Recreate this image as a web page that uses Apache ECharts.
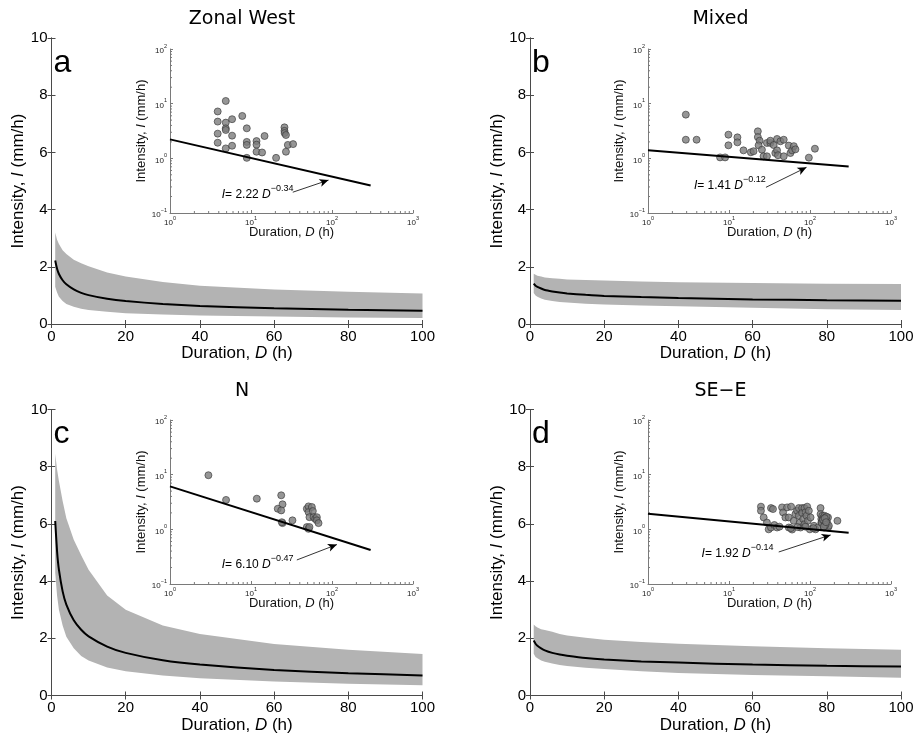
<!DOCTYPE html>
<html><head><meta charset="utf-8">
<script src="https://cdn.jsdelivr.net/npm/echarts@6/dist/echarts.min.js"></script>
<style>html,body{margin:0;padding:0;background:#fff}#c{width:915px;height:733px}</style>
</head><body><div id="c"></div>
<script>
// ---------- DATA ----------
const panelTitles = ['Zonal West', 'Mixed', 'N', 'SE\u2212E'];
const panelLetters = ['a', 'b', 'c', 'd'];
const mainXTicks = [0, 20, 40, 60, 80, 100];
const mainYTicks = [0, 2, 4, 6, 8, 10];

// duration grid for the main-panel fitted curve and band
const durations = [1, 1.5, 2, 3, 4, 6, 8, 10, 15, 20, 30, 40, 60, 80, 100];

const fitA   = [2.22, 1.93, 1.75, 1.53, 1.39, 1.21, 1.09, 1.01, 0.88, 0.80, 0.70, 0.63, 0.55, 0.50, 0.46];
const upperA = [3.20, 2.95, 2.80, 2.58, 2.45, 2.25, 2.12, 2.02, 1.80, 1.66, 1.47, 1.34, 1.21, 1.13, 1.07];
const lowerA = [1.30, 1.10, 0.95, 0.80, 0.70, 0.60, 0.53, 0.49, 0.43, 0.38, 0.33, 0.30, 0.26, 0.23, 0.21];

const fitB   = [1.41, 1.34, 1.30, 1.24, 1.19, 1.14, 1.10, 1.07, 1.02, 0.98, 0.94, 0.91, 0.86, 0.83, 0.81];
const upperB = [1.76, 1.72, 1.69, 1.66, 1.63, 1.60, 1.58, 1.56, 1.54, 1.52, 1.49, 1.46, 1.43, 1.41, 1.40];
const lowerB = [1.08, 1.00, 0.95, 0.89, 0.85, 0.80, 0.77, 0.75, 0.71, 0.68, 0.65, 0.62, 0.57, 0.52, 0.49];

const fitC   = [6.10, 5.04, 4.40, 3.64, 3.18, 2.63, 2.30, 2.07, 1.71, 1.49, 1.23, 1.08, 0.89, 0.78, 0.70];
const upperC = [8.45, 7.90, 7.50, 6.80, 6.20, 5.45, 4.90, 4.40, 3.50, 3.00, 2.45, 2.15, 1.80, 1.60, 1.45];
const lowerC = [4.30, 3.50, 3.00, 2.45, 2.05, 1.65, 1.38, 1.22, 0.98, 0.85, 0.70, 0.60, 0.49, 0.41, 0.36];

const fitD   = [1.92, 1.81, 1.74, 1.65, 1.58, 1.49, 1.43, 1.39, 1.31, 1.26, 1.19, 1.15, 1.08, 1.04, 1.01];
const upperD = [2.48, 2.42, 2.38, 2.32, 2.29, 2.23, 2.15, 2.10, 2.02, 1.95, 1.87, 1.81, 1.72, 1.65, 1.60];
const lowerD = [1.46, 1.35, 1.30, 1.22, 1.18, 1.12, 1.07, 1.03, 0.97, 0.93, 0.85, 0.79, 0.72, 0.67, 0.62];

// inset: observed events (duration h, intensity mm/h)
const eventsA_D = [3.88,4.88,3.88,4.88,5.84,7.8,3.88,4.88,4.88,5.84,8.87,3.88,4.88,5.84,8.87,8.87,8.87,11.7,11.7,11.7,13.7,14.7,20.4,25.9,25.9,26,27,27,28.5,33.1];
const eventsA_I = [7.2,11.2,4.7,4.5,5.2,5.96,2.83,3.54,3.3,2.6,3.54,1.93,1.52,1.70,2.0,1.76,1.02,2.07,1.78,1.32,1.28,2.56,1.02,3.69,3.18,2.9,2.67,1.32,1.76,1.82];

const eventsB_D = [2.93,2.93,3.98,9.84,9.84,7.76,8.95,12.7,12.7,15.1,18.6,20.1,22.7,22.7,23.9,23.2,25.5,26.7,29.4,29.4,32.4,32.4,35.6,37.3,39.2,40.3,39.2,43.1,47.4,47.4,54.7,57.3,60.1,63.1,66.1,96.8,115];
const eventsB_I = [6.3,2.19,2.19,2.71,1.73,1.04,1.04,2.42,1.96,1.40,1.29,1.35,3.12,2.45,2.10,1.73,1.44,1.09,1.09,1.91,1.91,2.1,1.75,1.25,1.40,1.14,2.26,2.05,2.19,1.09,1.71,1.25,1.40,1.67,1.46,1.03,1.50];

const eventsC_D = [2.98,4.92,11.8,23.6,24.5,21.4,23.6,24.5,24,32.5,48.9,51.3,52.7,48.9,51.3,51.3,52.7,56.4,58.0,59.2,62.0,65.0,65.0,68.2];
const eventsC_I = [9.77,3.45,3.64,4.19,2.87,2.38,2.22,1.30,1.35,1.46,1.10,1.02,1.10,2.38,2.63,2.07,1.67,2.56,2.16,1.67,1.56,1.67,1.46,1.30];

const eventsD_D = [24.8,24.8,26.8,29.4,30.9,33.0,34.9,33.0,36.3,39.2,45.2,46.5,49.7,52.1,54.7,58.4,54.7,60.1,63.0,66.1,69.3,72.8,72.8,74.8,76.3,80.0,80.0,82.4,85.5,88.1,85.5,90.6,92.3,94.1,96.8,99.6,101.6,112,117,125,135,135,138,138,142,146,142,146,149,151,156,156,157,160,163,167,167,171,218,140,150,145,155,160,148,152,158,42,58,70,88,110];
const eventsD_I = [2.6,2.19,1.65,1.33,1.0,2.45,2.35,1.08,1.2,1.08,2.52,2.04,1.65,2.52,1.08,2.6,1.65,0.99,1.43,1.9,2.19,2.45,1.77,1.33,1.08,2.45,2.0,1.54,2.45,2.06,1.24,1.77,2.6,1.43,2.19,1.0,1.65,1.16,1.0,1.08,2.45,1.9,1.54,1.33,1.77,1.6,1.43,1.24,1.08,1.77,1.65,1.24,1.43,1.54,1.33,1.08,1.65,1.16,1.43,1.3,1.4,1.5,1.2,1.7,1.12,1.6,1.35,1.12,1.05,1.1,1.12,1.05];

// inset fitted power-law line I = a D^b, drawn from D=1 to D=300
const insetLineD = [1, 300];
const insetLineA = [2.22, 0.319];
const insetLineB = [1.41, 0.711];
const insetLineC = [6.10, 0.418];
const insetLineDv = [1.92, 0.864];
const fitCoef = ['2.22', '1.41', '6.10', '1.92'];
const fitExp  = ['\u22120.34', '\u22120.12', '\u22120.47', '\u22120.14'];

const insetXTicks = [1, 10, 100, 1000];
const insetYTicks = [0.1, 1, 10, 100];
const insetXMinor = [2,3,4,5,6,7,8,9,20,30,40,50,60,70,80,90,200,300,400,500,600,700,800,900];
const insetYMinor = [0.2,0.3,0.4,0.5,0.6,0.7,0.8,0.9,2,3,4,5,6,7,8,9,20,30,40,50,60,70,80,90];

// ---------- LAYOUT ----------
const mainBox = [[51.5, 38], [530, 38], [51.5, 409.5], [530, 409.5]];
const mainW = 371, mainH = 286;
const insetBox = [[170, 49], [648, 49], [170, 420], [648, 420]];
const insetW = 243, insetH = 164;
// annotation anchors (data coords in the inset): text start, arrow start, arrow end
const annot = [
  {text: [4.35, 0.24],  from: [32.8, 0.24], to: [90.6, 0.40]},
  {text: [3.69, 0.345], from: [28.6, 0.295], to: [90.6, 0.684]},
  {text: [4.35, 0.248], from: [36.8, 0.275], to: [115, 0.527]},
  {text: [4.59, 0.395], from: [41.1, 0.385], to: [180, 0.79]}
];

const panels = [
  {fit: fitA, up: upperA, lo: lowerA, ev: [eventsA_D, eventsA_I], line: insetLineA},
  {fit: fitB, up: upperB, lo: lowerB, ev: [eventsB_D, eventsB_I], line: insetLineB},
  {fit: fitC, up: upperC, lo: lowerC, ev: [eventsC_D, eventsC_I], line: insetLineC},
  {fit: fitD, up: upperD, lo: lowerD, ev: [eventsD_D, eventsD_I], line: insetLineDv}
];

const SANS = '"Liberation Sans", Arial, Helvetica, sans-serif';
const TITLEF = '"DejaVu Sans", Verdana, sans-serif';
const AXC = '#4a4a4a';
const INC = '#7a7a7a';

function pow10Label(v) {
  const e = Math.round(Math.log10(v));
  return '{b|10}{s|' + (e < 0 ? '\u2212' + (-e) : e) + '}';
}
const powRich = {
  b: {fontSize: 8, fontFamily: SANS, color: '#222', lineHeight: 12, verticalAlign: 'bottom'},
  s: {fontSize: 5.5, fontFamily: SANS, color: '#222', lineHeight: 6, verticalAlign: 'top'}
};

const grid = [], xAxis = [], yAxis = [], series = [], title = [];

panels.forEach((p, i) => {
  const [ml, mt] = mainBox[i];
  const [il, it] = insetBox[i];
  grid.push({left: ml, top: mt, width: mainW, height: mainH, containLabel: false, outerBoundsMode: 'none'});
  grid.push({left: il, top: it, width: insetW, height: insetH, containLabel: false, outerBoundsMode: 'none'});
  const gMain = 2 * i, gIn = 2 * i + 1;

  xAxis.push({
    gridIndex: gMain, type: 'value', min: mainXTicks[0], max: mainXTicks[mainXTicks.length - 1], interval: 20,
    axisLine: {show: true, lineStyle: {color: AXC, width: 1}},
    axisTick: {show: true, inside: true, length: 4, lineStyle: {color: AXC}},
    splitLine: {show: false},
    axisLabel: {fontSize: 15, fontFamily: SANS, color: '#000', margin: 5},
    name: '{n|Duration, }{i|D}{n| (h)}', nameLocation: 'middle', nameGap: 19,
    nameTextStyle: {fontSize: 17, fontFamily: SANS, color: '#000',
      rich: {n: {fontSize: 17, fontFamily: SANS, color: '#000'}, i: {fontSize: 17, fontFamily: SANS, fontStyle: 'italic', color: '#000'}}}
  });
  xAxis.push({
    gridIndex: gMain, type: 'value', position: 'top', min: 0, max: 100, interval: 20,
    axisLine: {show: true, lineStyle: {color: AXC, width: 1}},
    axisTick: {show: true, inside: true, length: 4, lineStyle: {color: AXC}},
    axisLabel: {show: false}, splitLine: {show: false}
  });
  xAxis.push({
    gridIndex: gIn, type: 'log', logBase: 10, min: insetXTicks[0], max: insetXTicks[3],
    axisLine: {show: true, lineStyle: {color: INC, width: 1}},
    axisTick: {show: true, inside: true, length: 3, lineStyle: {color: INC}},
    minorTick: {show: false},
    splitLine: {show: false},
    axisLabel: {formatter: pow10Label, rich: powRich, margin: 2},
    name: '{n|Duration, }{i|D}{n| (h)}', nameLocation: 'middle', nameGap: 13, nameMoveOverlap: false,
    nameTextStyle: {fontSize: 13, fontFamily: SANS, color: '#111',
      rich: {n: {fontSize: 13, fontFamily: SANS, color: '#111'}, i: {fontSize: 13, fontFamily: SANS, fontStyle: 'italic', color: '#111'}}}
  });

  yAxis.push({
    gridIndex: gMain, type: 'value', min: mainYTicks[0], max: mainYTicks[mainYTicks.length - 1], interval: 2,
    axisLine: {show: true, lineStyle: {color: AXC, width: 1}},
    axisTick: {show: true, inside: true, length: 4, lineStyle: {color: AXC}},
    splitLine: {show: false},
    axisLabel: {fontSize: 15, fontFamily: SANS, color: '#000', margin: 4},
    name: '{n|Intensity, }{i|I}{n| (mm/h)}', nameLocation: 'middle', nameRotate: 90, nameGap: 24,
    nameTextStyle: {fontSize: 17, fontFamily: SANS, color: '#000',
      rich: {n: {fontSize: 17, fontFamily: SANS, color: '#000'}, i: {fontSize: 17, fontFamily: SANS, fontStyle: 'italic', color: '#000'}}}
  });
  yAxis.push({
    gridIndex: gMain, type: 'value', position: 'right', min: 0, max: 10, interval: 2,
    axisLine: {show: true, lineStyle: {color: AXC, width: 1}},
    axisTick: {show: true, inside: true, length: 4, lineStyle: {color: AXC}},
    axisLabel: {show: false}, splitLine: {show: false}
  });
  yAxis.push({
    gridIndex: gIn, type: 'log', logBase: 10, min: insetYTicks[0], max: insetYTicks[3],
    axisLine: {show: true, lineStyle: {color: INC, width: 1}},
    axisTick: {show: true, inside: true, length: 3, lineStyle: {color: INC}},
    minorTick: {show: false},
    splitLine: {show: false},
    axisLabel: {formatter: pow10Label, rich: powRich, margin: 3},
    name: '{n|Intensity, }{i|I}{n| (mm/h)}', nameLocation: 'middle', nameRotate: 90, nameGap: 20,
    nameTextStyle: {fontSize: 13, fontFamily: SANS, color: '#111',
      rich: {n: {fontSize: 13, fontFamily: SANS, color: '#111'}, i: {fontSize: 13, fontFamily: SANS, fontStyle: 'italic', color: '#111'}}}
  });

  const xMain = 3 * i, xIn = 3 * i + 2, yMain = 3 * i, yIn = 3 * i + 2;

  // uncertainty band as one polygon: upper edge forward, lower edge back
  series.push({
    type: 'custom', xAxisIndex: xMain, yAxisIndex: yMain, silent: true, z: 1,
    data: durations.map((d, k) => [d, p.lo[k], p.up[k]]),
    encode: {x: 0, y: [1, 2]},
    renderItem: function (params, api) {
      if (params.dataIndex !== 0) return null;
      const pts = [];
      for (let k = 0; k < durations.length; k++) pts.push(api.coord([durations[k], p.up[k]]));
      for (let k = durations.length - 1; k >= 0; k--) pts.push(api.coord([durations[k], p.lo[k]]));
      return {type: 'polygon', shape: {points: pts}, style: {fill: '#b3b3b3', stroke: null}};
    }
  });
  // fitted curve
  series.push({
    type: 'line', xAxisIndex: xMain, yAxisIndex: yMain, silent: true, symbol: 'none',
    lineStyle: {color: '#000', width: 2}, smooth: 0.2,
    data: durations.map((d, k) => [d, p.fit[k]]), z: 3
  });
  // inset minor ticks (log positions 2..9 of each decade)
  series.push({
    type: 'custom', xAxisIndex: xIn, yAxisIndex: yIn, silent: true, z: 2, clip: false,
    data: insetXMinor.map(v => [v, insetYTicks[0]]),
    renderItem: function (params, api) {
      const pt = api.coord([api.value(0), api.value(1)]);
      return {type: 'line', shape: {x1: pt[0], y1: pt[1], x2: pt[0], y2: pt[1] - 2}, style: {stroke: INC, lineWidth: 1}};
    }
  });
  series.push({
    type: 'custom', xAxisIndex: xIn, yAxisIndex: yIn, silent: true, z: 2, clip: false,
    data: insetYMinor.map(v => [insetXTicks[0], v]),
    renderItem: function (params, api) {
      const pt = api.coord([api.value(0), api.value(1)]);
      return {type: 'line', shape: {x1: pt[0], y1: pt[1], x2: pt[0] + 2, y2: pt[1]}, style: {stroke: INC, lineWidth: 1}};
    }
  });
  // inset scatter
  series.push({
    type: 'scatter', xAxisIndex: xIn, yAxisIndex: yIn, silent: true,
    symbol: 'circle', symbolSize: 7,
    itemStyle: {color: '#7c7c7c', borderColor: '#363636', borderWidth: 0.8},
    data: p.ev[0].map((d, k) => [d, p.ev[1][k]]), z: 4
  });
  // inset fit line + annotation
  const a = annot[i];
  series.push({
    type: 'line', xAxisIndex: xIn, yAxisIndex: yIn, silent: true, symbol: 'none',
    lineStyle: {color: '#000', width: 2},
    data: insetLineD.map((d, k) => [d, p.line[k]]), z: 5,
    markLine: {
      silent: true, symbol: ['none', 'arrow'], symbolSize: [6, 9],
      lineStyle: {color: '#000', width: 0.8, type: 'solid'},
      itemStyle: {color: '#000'},
      label: {show: false},
      data: [[{coord: a.from}, {coord: a.to}]]
    },
    markPoint: {
      silent: true, symbol: 'circle', symbolSize: 0,
      data: [{
        coord: a.text,
        label: {
          show: true, position: 'right', distance: 0,
          formatter: '{i|I}{t|= ' + fitCoef[i] + ' }{i|D}{s|' + fitExp[i] + '}',
          rich: {
            i: {fontSize: 12, fontFamily: SANS, fontStyle: 'italic', color: '#000', lineHeight: 17, verticalAlign: 'bottom'},
            t: {fontSize: 12, fontFamily: SANS, color: '#000', lineHeight: 17, verticalAlign: 'bottom'},
            s: {fontSize: 9, fontFamily: SANS, color: '#000', lineHeight: 9, verticalAlign: 'top'}
          }
        }
      }]
    }
  });

  title.push({
    text: panelTitles[i], left: ml + mainW / 2, top: mt - 33, textAlign: 'center',
    textStyle: {fontSize: 19, fontWeight: 'normal', fontFamily: TITLEF, color: '#000'}
  });
  title.push({
    text: panelLetters[i], left: ml - 3, top: mt + 4,
    textStyle: {fontSize: 32, fontWeight: 'normal', fontFamily: SANS, color: '#000'}
  });
});

const chart = echarts.init(document.getElementById('c'), null, {renderer: 'canvas', width: 915, height: 733});
chart.setOption({
  animation: false,
  backgroundColor: '#fff',
  title: title,
  grid: grid,
  xAxis: xAxis,
  yAxis: yAxis,
  series: series
});
</script>
</body></html>
